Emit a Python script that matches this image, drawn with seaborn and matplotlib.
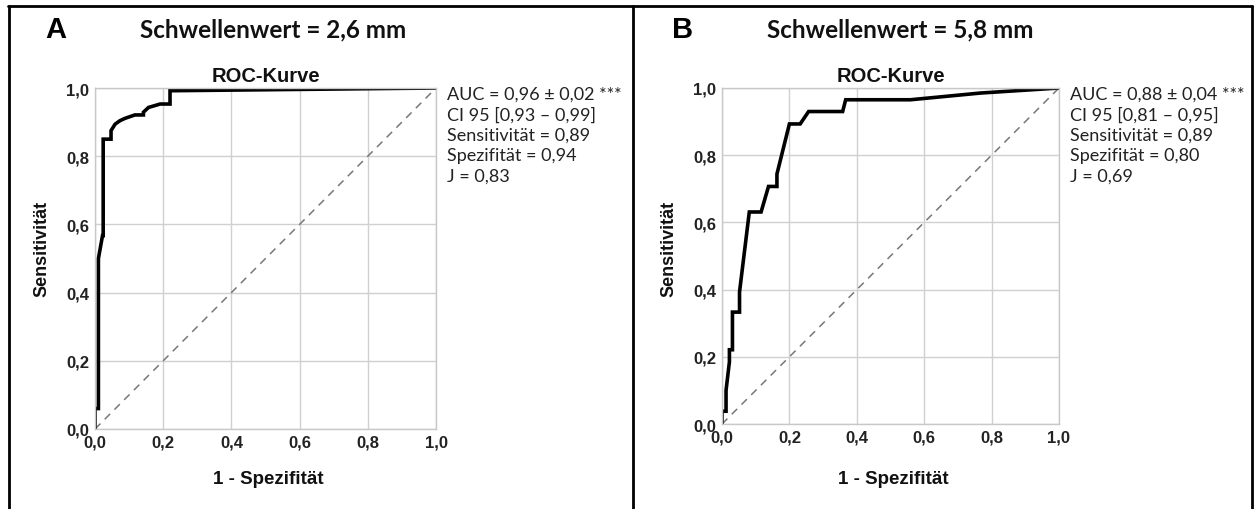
import matplotlib
matplotlib.use("Agg")
import matplotlib.pyplot as plt
import seaborn as sns
import pandas as pd
from matplotlib.lines import Line2D

# ---- data ----
fpr_A = [0, 0, 0.01, 0.01, 0.022, 0.024, 0.024, 0.047, 0.047, 0.059, 0.073, 0.088,
         0.117, 0.142, 0.142, 0.157, 0.191, 0.220, 0.220, 1.0]
tpr_A = [0, 0.06, 0.06, 0.50, 0.567, 0.567, 0.85, 0.85, 0.875, 0.894, 0.904, 0.911,
         0.921, 0.921, 0.929, 0.943, 0.953, 0.953, 0.992, 1.0]

fpr_B = [0, 0, 0.012, 0.012, 0.022, 0.022, 0.031, 0.031, 0.052, 0.052, 0.081, 0.116,
         0.138, 0.163, 0.163, 0.200, 0.232, 0.257, 0.358, 0.367, 0.559, 0.767, 1.0]
tpr_B = [0, 0.038, 0.038, 0.10, 0.185, 0.221, 0.221, 0.333, 0.333, 0.393, 0.631, 0.631,
         0.707, 0.707, 0.744, 0.893, 0.893, 0.930, 0.930, 0.965, 0.965, 0.985, 1.0]

diag = [0.0, 1.0]
ticks = [0.0, 0.2, 0.4, 0.6, 0.8, 1.0]
tick_labels = ["0,0", "0,2", "0,4", "0,6", "0,8", "1,0"]

panel_letters = ["A", "B"]
thresholds = ["Schwellenwert = 2,6 mm", "Schwellenwert = 5,8 mm"]
stats_A = ["AUC = 0,96 \u00b1 0,02 ***", "CI 95 [0,93 \u2013 0,99]",
           "Sensitivit\u00e4t = 0,89", "Spezifit\u00e4t = 0,94", "J = 0,83"]
stats_B = ["AUC = 0,88 \u00b1 0,04 ***", "CI 95 [0,81 \u2013 0,95]",
           "Sensitivit\u00e4t = 0,89", "Spezifit\u00e4t = 0,80", "J = 0,69"]

sns.set_theme(style="whitegrid")
plt.rcParams['font.family'] = ['Liberation Sans', 'DejaVu Sans']

W, H = 1257, 510
fig = plt.figure(figsize=(W / 100, H / 100), dpi=100)
fig.patch.set_facecolor("white")

def fx(px):
    return px / W

def fy(py):
    return 1 - py / H

axes_px = [(95, 89, 436, 430), (722, 89, 1059, 425)]
curves = [(fpr_A, tpr_A), (fpr_B, tpr_B)]
stats = [stats_A, stats_B]

for i, (l, t, r, b) in enumerate(axes_px):
    ax = fig.add_axes([fx(l), fy(b), (r - l) / W, (b - t) / H])
    ax.set_facecolor("white")
    fpr, tpr = curves[i]
    df = pd.DataFrame({"fpr": fpr, "tpr": tpr})
    sns.lineplot(data=pd.DataFrame({"x": diag, "y": diag}), x="x", y="y", ax=ax,
                 color="#777777", lw=1.1, linestyle=(0, (5, 4)), sort=False,
                 estimator=None)
    sns.lineplot(data=df, x="fpr", y="tpr", ax=ax, color="black", lw=2.6,
                 sort=False, estimator=None, solid_joinstyle="miter")
    ax.set_xlim(0, 1)
    ax.set_ylim(0, 1)
    ax.set_xticks(ticks)
    ax.set_yticks(ticks)
    ax.set_xticklabels(tick_labels, fontsize=12, fontweight="bold", color="#222222")
    ax.set_yticklabels(tick_labels, fontsize=12, fontweight="bold", color="#222222")
    ax.tick_params(length=0, pad=4)
    ax.grid(True, color="#d0d0d0", lw=1.0)
    for s in ax.spines.values():
        s.set_color("#c8c8c8")
        s.set_linewidth(1.0)
    ax.set_xlabel("")
    ax.set_ylabel("")
    ax.set_title("ROC-Kurve", fontsize=14.5, fontweight="bold", pad=5, color="#111111")

    # x label and y label
    cx = (l + r) / 2
    fig.text(fx(cx + 3), fy(480), "1 - Spezifit\u00e4t", ha="center", va="center",
             fontsize=13.5, fontweight="bold", color="#111111")
    fig.text(fx(l - 53), fy(t + 160), "Sensitivit\u00e4t", ha="center", va="center",
             rotation=90, fontsize=13, fontweight="bold", color="#111111")

    # panel letter and threshold title
    fig.text(fx(l - 50), fy(30), panel_letters[i], ha="left", va="center",
             fontsize=21, fontweight="bold", color="black")
    fig.text(fx(l + 178), fy(30), thresholds[i], ha="center", va="center",
             fontsize=17.5, fontweight="bold", family=["Lato", "DejaVu Sans"],
             color="#111111")

    # statistics text
    for k, line in enumerate(stats[i]):
        fig.text(fx(r + 11), fy(95 + 20.5 * k), line, ha="left", va="center",
                 fontsize=13, family=["Lato", "DejaVu Sans"], color="#222222")

# frame lines
lw = 2.0
fig.add_artist(Line2D([fx(8), fx(1252)], [fy(7), fy(7)], color="black", lw=lw))
fig.add_artist(Line2D([fx(9), fx(9)], [fy(7), fy(510)], color="black", lw=lw))
fig.add_artist(Line2D([fx(1252), fx(1252)], [fy(7), fy(510)], color="black", lw=lw))
fig.add_artist(Line2D([fx(633), fx(633)], [fy(7), fy(510)], color="black", lw=lw))

fig.savefig("out.png", dpi=100, facecolor="white")
